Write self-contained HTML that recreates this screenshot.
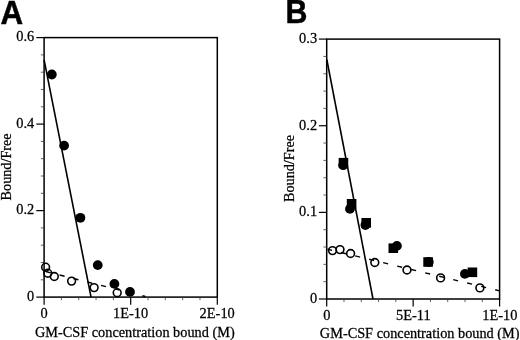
<!DOCTYPE html>
<html><head><meta charset="utf-8"><title>Scatchard</title>
<style>
html,body{margin:0;padding:0;background:#fff;}
body{width:520px;height:340px;overflow:hidden;}
svg{display:block;will-change:transform;}
.s text{font-family:"Liberation Serif",serif;font-size:14px;fill:#000;stroke:#000;stroke-width:0.25px;}
.h{font-family:"Liberation Sans",sans-serif;font-weight:bold;font-size:33px;fill:#000;stroke:#000;stroke-width:0.5px;}
</style></head><body>
<svg width="520" height="340" viewBox="0 0 520 340">
<rect width="520" height="340" fill="#fff"/>
<g>
<rect x="44.1" y="37.6" width="173.2" height="259.5" fill="none" stroke="#000" stroke-width="1.5"/>
<line x1="44.1" y1="297.1" x2="44.1" y2="304.7" stroke="#000" stroke-width="1.2"/>
<line x1="61.42" y1="297.1" x2="61.42" y2="300.2" stroke="#3a3a3a" stroke-width="0.8"/>
<line x1="78.74" y1="297.1" x2="78.74" y2="300.2" stroke="#3a3a3a" stroke-width="0.8"/>
<line x1="96.06" y1="297.1" x2="96.06" y2="300.2" stroke="#3a3a3a" stroke-width="0.8"/>
<line x1="113.38" y1="297.1" x2="113.38" y2="300.2" stroke="#3a3a3a" stroke-width="0.8"/>
<line x1="130.7" y1="297.1" x2="130.7" y2="304.7" stroke="#000" stroke-width="1.2"/>
<line x1="148.02" y1="297.1" x2="148.02" y2="300.2" stroke="#3a3a3a" stroke-width="0.8"/>
<line x1="165.34" y1="297.1" x2="165.34" y2="300.2" stroke="#3a3a3a" stroke-width="0.8"/>
<line x1="182.66" y1="297.1" x2="182.66" y2="300.2" stroke="#3a3a3a" stroke-width="0.8"/>
<line x1="199.98" y1="297.1" x2="199.98" y2="300.2" stroke="#3a3a3a" stroke-width="0.8"/>
<line x1="217.3" y1="297.1" x2="217.3" y2="304.7" stroke="#000" stroke-width="1.2"/>
<line x1="36.3" y1="297.1" x2="44.1" y2="297.1" stroke="#000" stroke-width="1.2"/>
<line x1="40.8" y1="279.8" x2="44.1" y2="279.8" stroke="#3a3a3a" stroke-width="0.8"/>
<line x1="40.8" y1="262.5" x2="44.1" y2="262.5" stroke="#3a3a3a" stroke-width="0.8"/>
<line x1="40.8" y1="245.2" x2="44.1" y2="245.2" stroke="#3a3a3a" stroke-width="0.8"/>
<line x1="40.8" y1="227.9" x2="44.1" y2="227.9" stroke="#3a3a3a" stroke-width="0.8"/>
<line x1="36.3" y1="210.6" x2="44.1" y2="210.6" stroke="#000" stroke-width="1.2"/>
<line x1="40.8" y1="193.3" x2="44.1" y2="193.3" stroke="#3a3a3a" stroke-width="0.8"/>
<line x1="40.8" y1="176" x2="44.1" y2="176" stroke="#3a3a3a" stroke-width="0.8"/>
<line x1="40.8" y1="158.7" x2="44.1" y2="158.7" stroke="#3a3a3a" stroke-width="0.8"/>
<line x1="40.8" y1="141.4" x2="44.1" y2="141.4" stroke="#3a3a3a" stroke-width="0.8"/>
<line x1="36.3" y1="124.1" x2="44.1" y2="124.1" stroke="#000" stroke-width="1.2"/>
<line x1="40.8" y1="106.8" x2="44.1" y2="106.8" stroke="#3a3a3a" stroke-width="0.8"/>
<line x1="40.8" y1="89.5" x2="44.1" y2="89.5" stroke="#3a3a3a" stroke-width="0.8"/>
<line x1="40.8" y1="72.2" x2="44.1" y2="72.2" stroke="#3a3a3a" stroke-width="0.8"/>
<line x1="40.8" y1="54.9" x2="44.1" y2="54.9" stroke="#3a3a3a" stroke-width="0.8"/>
<line x1="36.3" y1="37.6" x2="44.1" y2="37.6" stroke="#000" stroke-width="1.2"/>
<rect x="326.7" y="39.1" width="172.9" height="259.9" fill="none" stroke="#000" stroke-width="1.5"/>
<line x1="326.7" y1="299" x2="326.7" y2="306.6" stroke="#000" stroke-width="1.2"/>
<line x1="343.99" y1="299" x2="343.99" y2="302.1" stroke="#3a3a3a" stroke-width="0.8"/>
<line x1="361.28" y1="299" x2="361.28" y2="302.1" stroke="#3a3a3a" stroke-width="0.8"/>
<line x1="378.57" y1="299" x2="378.57" y2="302.1" stroke="#3a3a3a" stroke-width="0.8"/>
<line x1="395.86" y1="299" x2="395.86" y2="302.1" stroke="#3a3a3a" stroke-width="0.8"/>
<line x1="413.15" y1="299" x2="413.15" y2="306.6" stroke="#000" stroke-width="1.2"/>
<line x1="430.44" y1="299" x2="430.44" y2="302.1" stroke="#3a3a3a" stroke-width="0.8"/>
<line x1="447.73" y1="299" x2="447.73" y2="302.1" stroke="#3a3a3a" stroke-width="0.8"/>
<line x1="465.02" y1="299" x2="465.02" y2="302.1" stroke="#3a3a3a" stroke-width="0.8"/>
<line x1="482.31" y1="299" x2="482.31" y2="302.1" stroke="#3a3a3a" stroke-width="0.8"/>
<line x1="499.6" y1="299" x2="499.6" y2="306.6" stroke="#000" stroke-width="1.2"/>
<line x1="318.9" y1="299" x2="326.7" y2="299" stroke="#000" stroke-width="1.2"/>
<line x1="323.4" y1="281.67" x2="326.7" y2="281.67" stroke="#3a3a3a" stroke-width="0.8"/>
<line x1="323.4" y1="264.35" x2="326.7" y2="264.35" stroke="#3a3a3a" stroke-width="0.8"/>
<line x1="323.4" y1="247.02" x2="326.7" y2="247.02" stroke="#3a3a3a" stroke-width="0.8"/>
<line x1="323.4" y1="229.69" x2="326.7" y2="229.69" stroke="#3a3a3a" stroke-width="0.8"/>
<line x1="318.9" y1="212.37" x2="326.7" y2="212.37" stroke="#000" stroke-width="1.2"/>
<line x1="323.4" y1="195.04" x2="326.7" y2="195.04" stroke="#3a3a3a" stroke-width="0.8"/>
<line x1="323.4" y1="177.71" x2="326.7" y2="177.71" stroke="#3a3a3a" stroke-width="0.8"/>
<line x1="323.4" y1="160.39" x2="326.7" y2="160.39" stroke="#3a3a3a" stroke-width="0.8"/>
<line x1="323.4" y1="143.06" x2="326.7" y2="143.06" stroke="#3a3a3a" stroke-width="0.8"/>
<line x1="318.9" y1="125.73" x2="326.7" y2="125.73" stroke="#000" stroke-width="1.2"/>
<line x1="323.4" y1="108.41" x2="326.7" y2="108.41" stroke="#3a3a3a" stroke-width="0.8"/>
<line x1="323.4" y1="91.08" x2="326.7" y2="91.08" stroke="#3a3a3a" stroke-width="0.8"/>
<line x1="323.4" y1="73.75" x2="326.7" y2="73.75" stroke="#3a3a3a" stroke-width="0.8"/>
<line x1="323.4" y1="56.43" x2="326.7" y2="56.43" stroke="#3a3a3a" stroke-width="0.8"/>
<line x1="318.9" y1="39.1" x2="326.7" y2="39.1" stroke="#000" stroke-width="1.2"/>
<line x1="44.1" y1="59.8" x2="91.05" y2="297.1" stroke="#000" stroke-width="1.6"/>
<line x1="45.8" y1="271.55" x2="50.8" y2="272.81" stroke="#000" stroke-width="1.4"/>
<line x1="59.6" y1="275.01" x2="64.6" y2="276.27" stroke="#000" stroke-width="1.4"/>
<line x1="73.4" y1="278.48" x2="78.4" y2="279.73" stroke="#000" stroke-width="1.4"/>
<line x1="87.2" y1="281.94" x2="92.2" y2="283.2" stroke="#000" stroke-width="1.4"/>
<line x1="101" y1="285.4" x2="106" y2="286.66" stroke="#000" stroke-width="1.4"/>
<line x1="114.8" y1="288.87" x2="119.8" y2="290.12" stroke="#000" stroke-width="1.4"/>
<line x1="128.6" y1="292.33" x2="133.6" y2="293.59" stroke="#000" stroke-width="1.4"/>
<line x1="142.4" y1="295.79" x2="145.4" y2="296.55" stroke="#000" stroke-width="1.4"/>
<circle cx="51.8" cy="74.5" r="4.9" fill="#000"/>
<circle cx="64.1" cy="145.6" r="4.9" fill="#000"/>
<circle cx="80.4" cy="217.8" r="4.9" fill="#000"/>
<circle cx="97.75" cy="265.1" r="4.9" fill="#000"/>
<circle cx="114.4" cy="283.9" r="4.9" fill="#000"/>
<circle cx="130" cy="291.9" r="4.9" fill="#000"/>
<circle cx="45.6" cy="267.2" r="3.9" fill="none" stroke="#000" stroke-width="1.6"/>
<circle cx="47.8" cy="273.2" r="3.9" fill="none" stroke="#000" stroke-width="1.6"/>
<circle cx="54.3" cy="276.5" r="3.9" fill="none" stroke="#000" stroke-width="1.6"/>
<circle cx="71.6" cy="281.1" r="3.9" fill="none" stroke="#000" stroke-width="1.6"/>
<circle cx="94.1" cy="287.6" r="3.9" fill="none" stroke="#000" stroke-width="1.6"/>
<circle cx="117.2" cy="292.7" r="3.9" fill="none" stroke="#000" stroke-width="1.6"/>
<line x1="326.8" y1="59.5" x2="373.0" y2="299" stroke="#000" stroke-width="1.6"/>
<line x1="327.5" y1="249.2" x2="332.1" y2="250.31" stroke="#000" stroke-width="1.4"/>
<line x1="341.2" y1="252.52" x2="346.1" y2="253.7" stroke="#000" stroke-width="1.4"/>
<line x1="355.2" y1="255.9" x2="360.1" y2="257.09" stroke="#000" stroke-width="1.4"/>
<line x1="369.2" y1="259.29" x2="374.1" y2="260.48" stroke="#000" stroke-width="1.4"/>
<line x1="383.2" y1="262.68" x2="388.1" y2="263.87" stroke="#000" stroke-width="1.4"/>
<line x1="397.2" y1="266.07" x2="402.1" y2="267.25" stroke="#000" stroke-width="1.4"/>
<line x1="411.2" y1="269.46" x2="416.1" y2="270.64" stroke="#000" stroke-width="1.4"/>
<line x1="425.2" y1="272.84" x2="430.1" y2="274.03" stroke="#000" stroke-width="1.4"/>
<line x1="439.2" y1="276.23" x2="444.1" y2="277.42" stroke="#000" stroke-width="1.4"/>
<line x1="453.2" y1="279.62" x2="458.1" y2="280.81" stroke="#000" stroke-width="1.4"/>
<line x1="467.2" y1="283.01" x2="472.1" y2="284.19" stroke="#000" stroke-width="1.4"/>
<line x1="481.2" y1="286.4" x2="486.1" y2="287.58" stroke="#000" stroke-width="1.4"/>
<line x1="495.2" y1="289.78" x2="499.6" y2="290.85" stroke="#000" stroke-width="1.4"/>
<rect x="338.65" y="157.9" width="9.6" height="9.6" fill="#000"/>
<circle cx="343.2" cy="165.2" r="4.9" fill="#000"/>
<rect x="346.8" y="199" width="9.6" height="9.6" fill="#000"/>
<circle cx="349.95" cy="208.9" r="4.9" fill="#000"/>
<rect x="361.4" y="218" width="9.6" height="9.6" fill="#000"/>
<circle cx="365.4" cy="225" r="4.9" fill="#000"/>
<rect x="388.5" y="243.4" width="9.6" height="9.6" fill="#000"/>
<circle cx="396.9" cy="245.9" r="4.9" fill="#000"/>
<rect x="423.3" y="257.2" width="9.6" height="9.6" fill="#000"/>
<circle cx="428.8" cy="262" r="4.9" fill="#000"/>
<rect x="467.6" y="267.5" width="9.6" height="9.6" fill="#000"/>
<circle cx="464.9" cy="273.9" r="4.9" fill="#000"/>
<circle cx="332.5" cy="250.6" r="3.9" fill="none" stroke="#000" stroke-width="1.6"/>
<circle cx="340" cy="249.6" r="3.9" fill="none" stroke="#000" stroke-width="1.6"/>
<circle cx="350.6" cy="253.5" r="3.9" fill="none" stroke="#000" stroke-width="1.6"/>
<circle cx="374.8" cy="262.5" r="3.9" fill="none" stroke="#000" stroke-width="1.6"/>
<circle cx="407" cy="270" r="3.9" fill="none" stroke="#000" stroke-width="1.6"/>
<circle cx="440.6" cy="277.9" r="3.9" fill="none" stroke="#000" stroke-width="1.6"/>
<circle cx="479.9" cy="287.9" r="3.9" fill="none" stroke="#000" stroke-width="1.6"/>
</g>
<g class="s">
<text transform="translate(34.2,41.3) scale(1.028,1)" text-anchor="end">0.6</text>
<text transform="translate(34.2,127.8) scale(1.028,1)" text-anchor="end">0.4</text>
<text transform="translate(34.2,214.3) scale(1.028,1)" text-anchor="end">0.2</text>
<text transform="translate(34.2,300.8) scale(1.028,1)" text-anchor="end">0</text>
<text transform="translate(317.1,43) scale(1.028,1)" text-anchor="end">0.3</text>
<text transform="translate(317.1,129.63) scale(1.028,1)" text-anchor="end">0.2</text>
<text transform="translate(317.1,216.27) scale(1.028,1)" text-anchor="end">0.1</text>
<text transform="translate(317.1,302.9) scale(1.028,1)" text-anchor="end">0</text>
<text transform="translate(44,318) scale(1.028,1)" text-anchor="middle">0</text>
<text transform="translate(130.6,318) scale(1.028,1)" text-anchor="middle">1E-10</text>
<text transform="translate(217.2,318) scale(1.028,1)" text-anchor="middle">2E-10</text>
<text transform="translate(326.9,319.7) scale(1.028,1)" text-anchor="middle">0</text>
<text transform="translate(413.35,319.7) scale(1.028,1)" text-anchor="middle">5E-11</text>
<text transform="translate(499.8,319.7) scale(1.028,1)" text-anchor="middle">1E-10</text>
<text transform="translate(134.8,337.1) scale(1.022,1)" text-anchor="middle">GM-CSF concentration bound (M)</text>
<text transform="translate(419.7,337.9) scale(1.022,1)" text-anchor="middle">GM-CSF concentration bound (M)</text>
<text transform="translate(11.3,166.9) rotate(-90) scale(1.015,1)" text-anchor="middle">Bound/Free</text>
<text transform="translate(293.5,168.5) rotate(-90) scale(1.015,1)" text-anchor="middle">Bound/Free</text>
</g>
<text class="h" transform="translate(0.4,23.5) scale(0.95,1)">A</text>
<text class="h" transform="translate(285.4,23.45) scale(0.92,1)">B</text>
</svg>
</body></html>
